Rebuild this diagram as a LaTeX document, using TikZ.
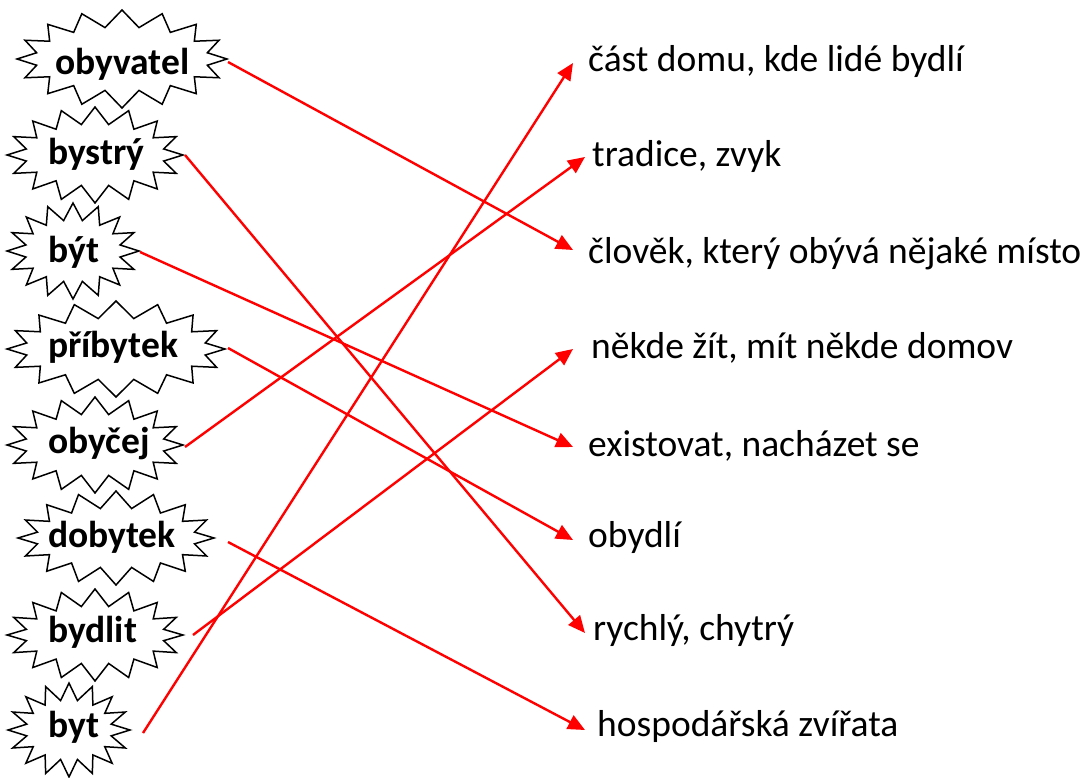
\documentclass[tikz,border=0pt]{standalone}
\usepackage{fontspec}
\setmainfont{Carlito}
\usetikzlibrary{arrows.meta}
\newcommand{\burst}[4]{%
  \draw[starline] plot[samples at={0,...,31}]
    ({#1+(#3-18*mod(\x,2))*cos(\x*11.25)},{#2+(#4-17*mod(\x,2))*sin(\x*11.25)}) -- cycle;}
\begin{document}
\begin{tikzpicture}[x=1pt,y=-1pt,
  starline/.style={draw=black,line width=1.5pt,fill=white,line join=miter},
  word/.style={font=\fontsize{37.5}{45}\selectfont\bfseries,anchor=base west,inner sep=0pt},
  meaning/.style={font=\fontsize{37.5}{45}\selectfont,anchor=base west,inner sep=0pt},
  link/.style={draw=red,line width=2.4pt,-{Triangle[length=17pt,width=15pt]}}]
\useasboundingbox (0,0) rectangle (1084,778);
% starbursts
\burst{122}{59}{105}{49}
\burst{95}{155}{88}{48}
\burst{73}{251}{66}{48}
\burst{116}{349}{109}{48}
\burst{95}{445}{88}{48}
\burst{116}{538}{98}{47}
\burst{95}{635}{88}{46}
\burst{69}{730}{61}{47}
% words
\node[word] (w1) at (55,75) {obyvatel};
\node[word] (w2) at (48,165) {bystrý};
\node[word] (w3) at (48,262) {být};
\node[word] (w4) at (48,357) {příbytek};
\node[word] (w5) at (48,453) {obyčej};
\node[word] (w6) at (48,547) {dobytek};
\node[word] (w7) at (48,642) {bydlit};
\node[word] (w8) at (48,737) {byt};
% meanings
\node[meaning] (m1) at (588,72) {část domu, kde lidé bydlí};
\node[meaning] (m2) at (592,167) {tradice, zvyk};
\node[meaning] (m3) at (588,263) {člověk, který obývá nějaké místo};
\node[meaning] (m4) at (591,358) {někde žít, mít někde domov};
\node[meaning] (m5) at (588,456) {existovat, nacházet se};
\node[meaning] (m6) at (588,547) {obydlí};
\node[meaning] (m7) at (593,640) {rychlý, chytrý};
\node[meaning] (m8) at (597,736) {hospodářská zvířata};
% connector ends
\coordinate (s1) at (228,62);
\coordinate (s2) at (185,155);
\coordinate (s3) at (140,252);
\coordinate (s4) at (228,348);
\coordinate (s5) at (185,447);
\coordinate (s6) at (228,542);
\coordinate (s7) at (193,635);
\coordinate (s8) at (143,733);
\coordinate (t1) at (573,63);
\coordinate (t2) at (585,157);
\coordinate (t3) at (573,250);
\coordinate (t4) at (573,349);
\coordinate (t5) at (573,447);
\coordinate (t6) at (573,540);
\coordinate (t7) at (585,633);
\coordinate (t8) at (585,730);
% connectors
\draw[link] (s1) -- (t3);
\draw[link] (s2) -- (t7);
\draw[link] (s3) -- (t5);
\draw[link] (s4) -- (t6);
\draw[link] (s5) -- (t2);
\draw[link] (s6) -- (t8);
\draw[link] (s7) -- (t4);
\draw[link] (s8) -- (t1);
\end{tikzpicture}
\end{document}
